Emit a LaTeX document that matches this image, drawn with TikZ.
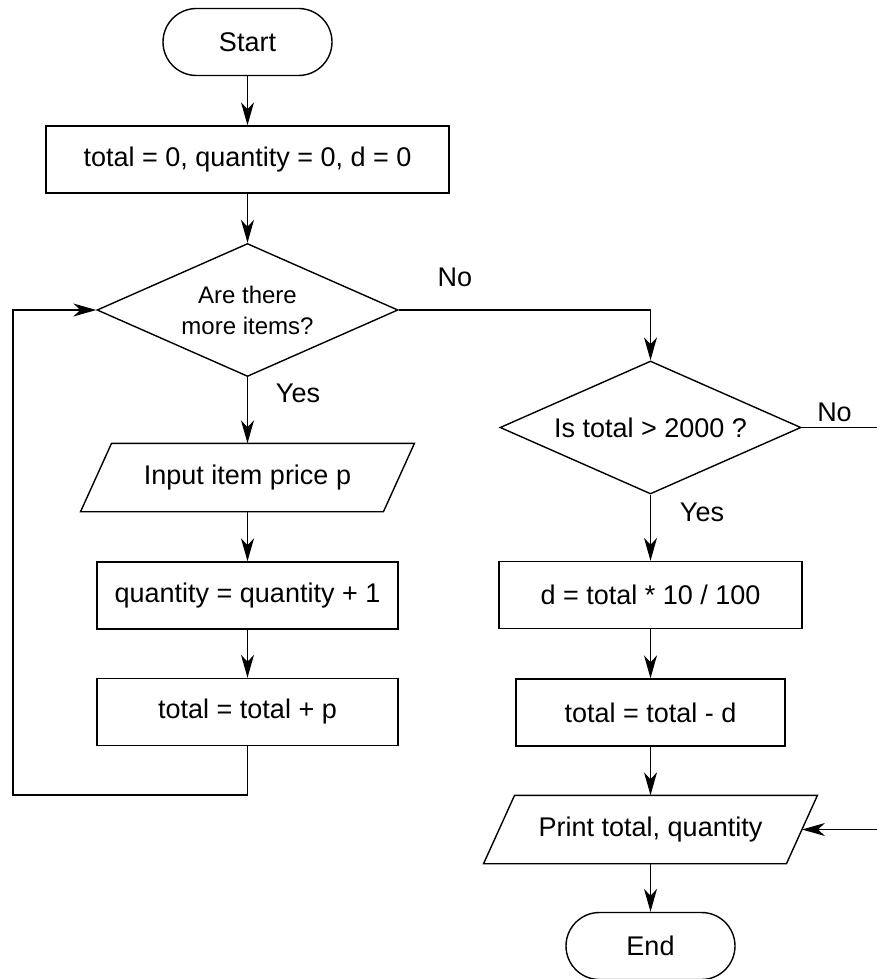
\documentclass[tikz,border=0pt]{standalone}
\usepackage{fontspec}
\setmainfont{Liberation Sans}
\usetikzlibrary{shapes.geometric,arrows.meta}
\newcommand{\flowFont}[0]{\fontsize{13.5}{16}\selectfont}
\newcommand{\askFont}[0]{\fontsize{12}{15.5}\selectfont}
\newcommand{\ioSlant}[0]{7.75pt}
\newcommand{\ioOutline}[1]{\draw ([xshift=\ioSlant]#1.north west) -- ([xshift=\ioSlant]#1.north east)
  -- ([xshift=-\ioSlant]#1.south east) -- ([xshift=-\ioSlant]#1.south west) -- cycle;}

\begin{document}
\begin{tikzpicture}[x=0.5pt, y=-0.5pt, line width=0.7pt, font=\flowFont,
  >={Stealth[length=11.5pt,width=6.5pt,inset=3.5pt]}]
  \tikzset{
    terminal/.style={draw, rectangle, rounded corners=16.75pt, minimum width=84.5pt, minimum height=33.5pt, inner sep=0pt},
    process/.style={draw, rectangle, minimum width=150.5pt, minimum height=33.5pt, inner sep=0pt},
    decision/.style={draw, diamond, aspect=2.26, minimum width=150.5pt, minimum height=66.5pt, inner sep=0pt, align=center},
    io/.style={rectangle, minimum width=150.75pt, minimum height=33.5pt, inner sep=0pt},
    branch/.style={inner sep=0pt}
  }
  \useasboundingbox (0,0) rectangle (877,979);
  \clip (0,0) rectangle (877,979);
  % left column
  \node[terminal] (start) at (247.5,42) {Start};
  \node[process, minimum width=201.5pt] (init) at (247.5,159.5) {total = 0, quantity = 0, d = 0};
  \node[decision, font=\askFont] (more) at (247.5,310) {Are there\\more items?};
  \node[io] (input) at (247.5,477.5) {Input item price p};
  \node[process] (count) at (247.5,595.5) {quantity = quantity + 1};
  \node[process] (addp) at (247.5,712) {total = total + p};
  % right column
  \node[decision] (limit) at (650.5,427.5) {Is total > 2000 ?};
  \node[process, minimum width=151.5pt] (disc) at (650.5,595) {d = total * 10 / 100};
  \node[process, minimum width=134.5pt] (sub) at (650.5,712.5) {total = total - d};
  \node[io] (print) at (650.5,829.5) {Print total, quantity};
  \node[terminal] (end) at (650.5,946) {End};
  \ioOutline{input}
  \ioOutline{print}
  % branch labels
  \node[branch] (noA) at (455,277) {No};
  \node[branch] (yesA) at (298,393) {Yes};
  \node[branch] (noB) at (834.5,412) {No};
  \node[branch] (yesB) at (702,512) {Yes};
  \coordinate (loop) at (13,795);
  \coordinate (edge) at (880,829.5);
  \draw[->] (start) -- (init);
  \draw[->] (init) -- (more);
  \draw[->] (more) -- (input);
  \draw[->] (input) -- (count);
  \draw[->] (count) -- (addp);
  \draw[->] (addp.south) |- (loop) |- (more.west);
  \draw[->] (more.east) -| (limit.north);
  \draw[->] (limit) -- (disc);
  \draw[->] (disc) -- (sub);
  \draw[->] (sub) -- (print);
  \draw[->] (print) -- (end);
  \draw[->] (limit.east) -| (edge) -- (print.east);
\end{tikzpicture}
\end{document}
